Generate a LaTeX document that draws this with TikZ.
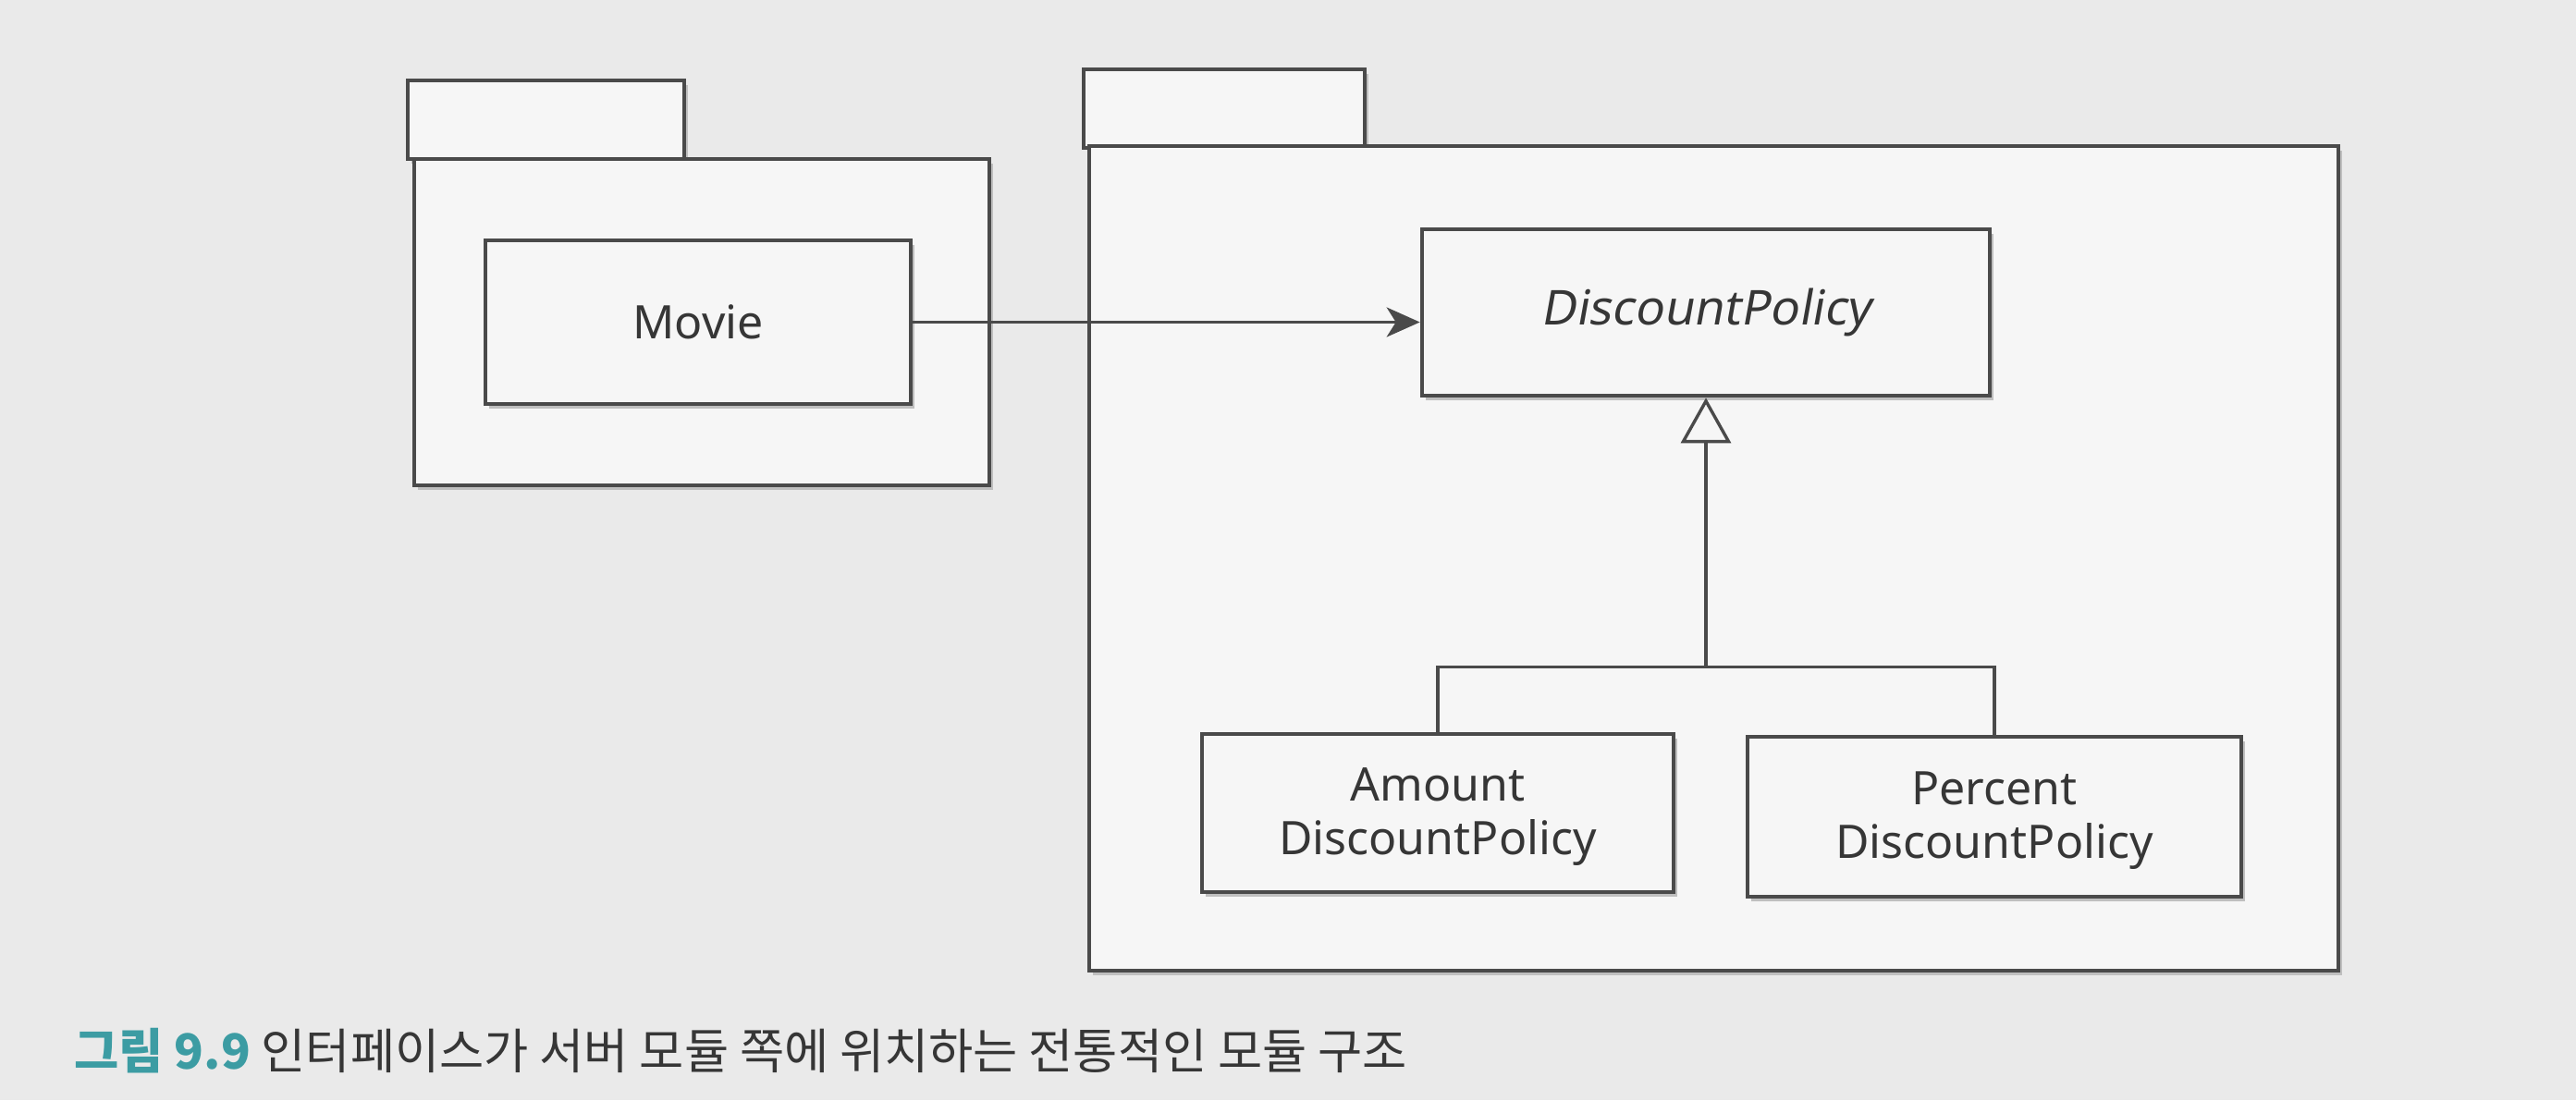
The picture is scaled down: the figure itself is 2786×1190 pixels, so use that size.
\documentclass[tikz,border=0pt]{standalone}
\usepackage{fontspec}
\setmainfont{Noto Sans}
\newfontfamily\cjk{Noto Sans CJK KR}
\newfontfamily\slantfont[FakeSlant=0.18]{Noto Sans}
\usetikzlibrary{arrows.meta,shadows,calc}
\definecolor{bg}{HTML}{EAEAEA}
\definecolor{ink}{HTML}{4A4A4A}
\definecolor{txt}{HTML}{363636}
\definecolor{paper}{HTML}{F6F6F6}
\definecolor{capteal}{HTML}{3C9CA3}
\tikzset{
  umlbox/.style={draw=ink, line width=2.3pt, fill=paper, text=txt,
    font=\fontsize{25}{29}\selectfont, align=center, inner sep=0pt,
    drop shadow={shadow xshift=2pt, shadow yshift=-2.5pt, fill=black, opacity=0.22}},
  pkg/.style={draw=ink, line width=2.3pt, fill=paper, inner sep=0pt,
    drop shadow={shadow xshift=2pt, shadow yshift=-2.5pt, fill=black, opacity=0.18}},
  conn/.style={draw=ink, line width=1.7pt}
}
\begin{document}
\begin{tikzpicture}[x=0.5pt,y=-0.5pt]
\fill[bg] (0,0) rectangle (2786,1190);
\useasboundingbox (0,0) rectangle (2786,1190);
% left package
\node[pkg, minimum width=149.5pt, minimum height=42.5pt] (lpkgtab) at (590.5,129.5) {};
\node[pkg, minimum width=311pt, minimum height=176.5pt] (lpkg) at (759,348.5) {};
\node[umlbox, minimum width=230pt, minimum height=88.5pt] (movie) at (755,348.5) {Movie};
% right package
\node[pkg, minimum width=152pt, minimum height=42.5pt] (rpkgtab) at (1324,117.5) {};
\node[pkg, minimum width=675.5pt, minimum height=446pt] (rpkg) at (1853.5,604) {};
\node[umlbox, minimum width=307pt, minimum height=90pt, font=\fontsize{26}{30}\selectfont] (dp) at (1845,338) {\slantfont DiscountPolicy};
\node[umlbox, minimum width=255pt, minimum height=85.5pt] (amount) at (1555,879.5) {\rule{0pt}{22pt}Amount\\DiscountPolicy};
\node[umlbox, minimum width=267pt, minimum height=86.5pt] (percent) at (2157,883.5) {\rule{0pt}{22pt}Percent\\DiscountPolicy};
% connectors
\draw[conn, -{Stealth[length=18pt, width=16pt, inset=5pt]}] (movie.east) -- (movie.east -| dp.west);
\coordinate (junc) at ($(dp.south)+(0,291)$);
\draw[conn, {Triangle[open, length=24.5pt, width=27pt, fill=paper]}-] (dp.south) -- (junc);
\draw[conn] (amount.north) |- (junc) -| (percent.north);
% caption
\node[anchor=west, inner sep=0pt, text=txt] (caption) at (80,1137)
  {\cjk\fontsize{26.2}{31}\selectfont{\bfseries\color{capteal}그림 9.9} 인터페이스가 서버 모듈 쪽에 위치하는 전통적인 모듈 구조};
\end{tikzpicture}
\end{document}
